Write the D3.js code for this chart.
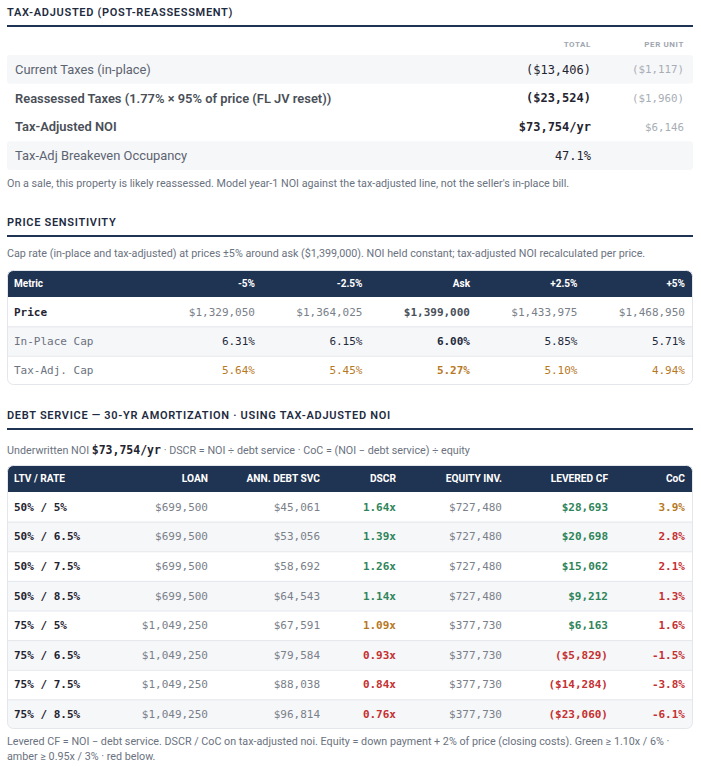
<!DOCTYPE html>
<html>
<head>
<meta charset="utf-8">
<script src="https://cdn.jsdelivr.net/npm/d3@7"></script>
<style>
  html, body { margin: 0; padding: 0; background: #fff; }
  svg { display: block; }
  .sans { font-family: Roboto, "Noto Sans", sans-serif; }
  .mono { font-family: "DejaVu Sans Mono", "Liberation Mono", monospace; }
</style>
</head>
<body>
<svg id="chart" width="701" height="767"></svg>
<script>
// ---- data ----
const taxLabels = [
  'Current Taxes (in-place)',
  'Reassessed Taxes (1.77% × 95% of price (FL JV reset))',
  'Tax-Adjusted NOI',
  'Tax-Adj Breakeven Occupancy'
];
const taxTotals = ['($13,406)', '($23,524)', '$73,754/yr', '47.1%'];
const taxPerUnit = ['($1,117)', '($1,960)', '$6,146', ''];

const priceCols = ['-5%', '-2.5%', 'Ask', '+2.5%', '+5%'];
const prices = [1329050, 1364025, 1399000, 1433975, 1468950];
const inPlaceCap = [6.31, 6.15, 6.00, 5.85, 5.71];
const taxAdjCap = [5.64, 5.45, 5.27, 5.10, 4.94];

const debtHeaders = ['LTV / RATE', 'LOAN', 'ANN. DEBT SVC', 'DSCR', 'EQUITY INV.', 'LEVERED CF', 'CoC'];
const ltvRate = ['50% / 5%', '50% / 6.5%', '50% / 7.5%', '50% / 8.5%', '75% / 5%', '75% / 6.5%', '75% / 7.5%', '75% / 8.5%'];
const loans = [699500, 699500, 699500, 699500, 1049250, 1049250, 1049250, 1049250];
const debtSvc = [45061, 53056, 58692, 64543, 67591, 79584, 88038, 96814];
const dscr = [1.64, 1.39, 1.26, 1.14, 1.09, 0.93, 0.84, 0.76];
const equity = [727480, 727480, 727480, 727480, 377730, 377730, 377730, 377730];
const leveredCF = [28693, 20698, 15062, 9212, 6163, -5829, -14284, -23060];
const coc = [3.9, 2.8, 2.1, 1.3, 1.6, -1.5, -3.8, -6.1];

// ---- styling ----
const NAVY = '#1f3352';
const GREEN = '#2f855a';
const AMBER = '#b7791f';
const RED = '#c53030';
const ZEBRA = '#f6f7f9';
const LINE = '#e3e6eb';
const L = 7, R = 693;

const svg = d3.select('#chart');
const money = d3.format('$,');
const fmtMoney = v => v < 0 ? `(${money(-v)})` : money(v);

function sectionTitle (text, y) {
  svg.append('text').attr('class', 'sans')
    .attr('x', L).attr('y', y)
    .attr('font-size', 11).attr('font-weight', 600)
    .attr('letter-spacing', 0.7).attr('fill', '#1e2b40')
    .text(text);
  svg.append('rect').attr('x', L).attr('y', y + 9).attr('width', R - L).attr('height', 2).attr('fill', NAVY);
}

function note (text, y) {
  return svg.append('text').attr('class', 'sans')
    .attr('x', L).attr('y', y)
    .attr('font-size', 10.75).attr('fill', '#6b7280')
    .text(text);
}

// ---- section 1: tax adjusted ----
sectionTitle('TAX-ADJUSTED (POST-REASSESSMENT)', 16);

const y1 = d3.scaleBand().domain(d3.range(taxLabels.length)).range([55, 170]);
const x1 = { total: 591, unit: 684 };

svg.selectAll('.th1').data([['TOTAL', x1.total], ['PER UNIT', x1.unit]]).join('text')
  .attr('class', 'sans th1')
  .attr('x', d => d[1]).attr('y', 47)
  .attr('text-anchor', 'end').attr('font-size', 8).attr('font-weight', 700)
  .attr('letter-spacing', 0.6).attr('fill', '#a0a6b0')
  .text(d => d[0]);

const rows1 = svg.selectAll('.row1').data(taxLabels).join('g')
  .attr('class', 'row1')
  .attr('transform', (d, i) => `translate(0,${y1(i)})`);

rows1.filter((d, i) => i === 0 || i === 3).append('rect')
  .attr('x', L).attr('width', R - L).attr('height', y1.bandwidth())
  .attr('rx', 3).attr('fill', ZEBRA);

rows1.append('text').attr('class', 'sans')
  .attr('x', 15).attr('y', y1.bandwidth() / 2).attr('dy', '0.35em')
  .attr('font-size', 12.9)
  .attr('font-weight', (d, i) => (i === 1 || i === 2) ? 600 : 400)
  .attr('fill', (d, i) => (i === 1 || i === 2) ? '#4a4f57' : '#5c6370')
  .text(d => d);

rows1.append('text').attr('class', 'mono')
  .attr('x', x1.total).attr('y', y1.bandwidth() / 2).attr('dy', '0.35em')
  .attr('text-anchor', 'end').attr('font-size', 12)
  .attr('font-weight', (d, i) => (i === 1 || i === 2) ? 700 : 400)
  .attr('fill', '#1f2430')
  .text((d, i) => taxTotals[i]);

rows1.append('text').attr('class', 'mono')
  .attr('x', x1.unit).attr('y', y1.bandwidth() / 2).attr('dy', '0.35em')
  .attr('text-anchor', 'end').attr('font-size', 10.8)
  .attr('fill', '#a8adb5')
  .text((d, i) => taxPerUnit[i]);

note("On a sale, this property is likely reassessed. Model year-1 NOI against the tax-adjusted line, not the seller's in-place bill.", 187);

// ---- table helper ----
function tableFrame (id, top, bottom, headH) {
  const defs = svg.append('defs');
  defs.append('clipPath').attr('id', id)
    .append('rect').attr('x', L + 0.5).attr('y', top + 0.5)
    .attr('width', R - L - 1).attr('height', bottom - top - 1).attr('rx', 6);
  const g = svg.append('g').attr('clip-path', `url(#${id})`);
  g.append('rect').attr('x', L).attr('y', top).attr('width', R - L).attr('height', headH).attr('fill', NAVY);
  return g;
}
function tableBorder (top, bottom) {
  svg.append('rect').attr('x', L + 0.5).attr('y', top + 0.5)
    .attr('width', R - L - 1).attr('height', bottom - top - 1).attr('rx', 6)
    .attr('fill', 'none').attr('stroke', LINE);
}

// ---- section 2: price sensitivity ----
sectionTitle('PRICE SENSITIVITY', 226);
note('Cap rate (in-place and tax-adjusted) at prices ±5% around ask ($1,399,000). NOI held constant; tax-adjusted NOI recalculated per price.', 257);

const t2Top = 270, t2Head = 27, t2Bottom = 385;
const g2 = tableFrame('clip2', t2Top, t2Bottom, t2Head);
const x2 = d3.scalePoint().domain(priceCols).range([255, 685]);
const rowNames2 = ['Price', 'In-Place Cap', 'Tax-Adj. Cap'];
const y2 = d3.scaleBand().domain(rowNames2).range([t2Top + t2Head, t2Bottom]);

g2.append('text').attr('class', 'sans')
  .attr('x', 14).attr('y', t2Top + t2Head / 2).attr('dy', '0.35em')
  .attr('font-size', 10).attr('font-weight', 700).attr('fill', '#fff').text('Metric');
g2.selectAll('.h2').data(priceCols).join('text')
  .attr('class', 'sans h2')
  .attr('x', d => x2(d)).attr('y', t2Top + t2Head / 2).attr('dy', '0.35em')
  .attr('text-anchor', 'end').attr('font-size', 10).attr('font-weight', 700).attr('fill', '#fff')
  .text(d => d);

const rowVals2 = [
  prices.map(v => ({ t: money(v), c: '#7a808a' })),
  inPlaceCap.map(v => ({ t: v.toFixed(2) + '%', c: '#1f2a3c' })),
  taxAdjCap.map(v => ({ t: v.toFixed(2) + '%', c: AMBER }))
];
const rows2 = g2.selectAll('.row2').data(rowNames2).join('g')
  .attr('class', 'row2')
  .attr('transform', d => `translate(0,${y2(d)})`);
rows2.filter((d, i) => i === 1).append('rect')
  .attr('x', L).attr('width', R - L).attr('height', y2.bandwidth()).attr('fill', ZEBRA);
rows2.filter((d, i) => i > 0).append('rect')
  .attr('x', L).attr('width', R - L).attr('height', 1).attr('fill', LINE);
rows2.append('text').attr('class', 'mono')
  .attr('x', 14).attr('y', y2.bandwidth() / 2).attr('dy', '0.35em')
  .attr('font-size', 11).attr('font-weight', (d, i) => i === 0 ? 700 : 400)
  .attr('fill', (d, i) => i === 0 ? '#1f2430' : '#6b7280')
  .text(d => d);
rows2.each(function (d, i) {
  d3.select(this).selectAll('.v').data(rowVals2[i]).join('text')
    .attr('class', 'mono v')
    .attr('x', (v, j) => x2(priceCols[j])).attr('y', y2.bandwidth() / 2).attr('dy', '0.35em')
    .attr('text-anchor', 'end').attr('font-size', 11)
    .attr('font-weight', (v, j) => priceCols[j] === 'Ask' ? 700 : 400)
    .attr('fill', (v, j) => (i === 0 && priceCols[j] === 'Ask') ? '#4a505a' : v.c)
    .text(v => v.t);
});
tableBorder(t2Top, t2Bottom);

// ---- section 3: debt service ----
sectionTitle('DEBT SERVICE — 30-YR AMORTIZATION · USING TAX-ADJUSTED NOI', 419);
const sub3 = note('', 454);
sub3.append('tspan').text('Underwritten NOI ');
sub3.append('tspan').attr('class', 'mono').attr('font-weight', 700).attr('fill', '#1f2430').attr('font-size', 11.5).text('$73,754/yr');
sub3.append('tspan').text(' · DSCR = NOI ÷ debt service · CoC = (NOI − debt service) ÷ equity');

const t3Top = 465, t3Head = 27, t3Bottom = 729;
const g3 = tableFrame('clip3', t3Top, t3Bottom, t3Head);
const colRight = [14, 208, 320, 396, 502, 608, 685];
const x3 = d3.scaleOrdinal().domain(debtHeaders).range(colRight);
const y3 = d3.scaleBand().domain(d3.range(ltvRate.length)).range([t3Top + t3Head, t3Bottom]);

g3.selectAll('.h3').data(debtHeaders).join('text')
  .attr('class', 'sans h3')
  .attr('x', d => x3(d)).attr('y', t3Top + t3Head / 2).attr('dy', '0.35em')
  .attr('text-anchor', (d, i) => i === 0 ? 'start' : 'end')
  .attr('font-size', 10.2).attr('font-weight', 700).attr('fill', '#fff')
  .text(d => d);

const dscrColor = v => v >= 1.10 ? GREEN : v >= 0.95 ? AMBER : RED;
const cocColor = v => v >= 6 ? GREEN : v >= 3 ? AMBER : RED;
const cfColor = v => v >= 0 ? GREEN : RED;
const GREY = '#7a808a';

const rows3 = g3.selectAll('.row3').data(ltvRate).join('g')
  .attr('class', 'row3')
  .attr('transform', (d, i) => `translate(0,${y3(i)})`);
rows3.filter((d, i) => i % 2 === 1).append('rect')
  .attr('x', L).attr('width', R - L).attr('height', y3.bandwidth()).attr('fill', ZEBRA);
rows3.filter((d, i) => i > 0).append('rect')
  .attr('x', L).attr('width', R - L).attr('height', 1).attr('fill', LINE);

rows3.each(function (d, i) {
  const cells = [
    { t: d, c: '#1f2430', w: 700 },
    { t: money(loans[i]), c: GREY, w: 400 },
    { t: money(debtSvc[i]), c: GREY, w: 400 },
    { t: dscr[i].toFixed(2) + 'x', c: dscrColor(dscr[i]), w: 700 },
    { t: money(equity[i]), c: GREY, w: 400 },
    { t: fmtMoney(leveredCF[i]), c: cfColor(leveredCF[i]), w: 700 },
    { t: coc[i].toFixed(1) + '%', c: cocColor(coc[i]), w: 700 }
  ];
  d3.select(this).selectAll('.v').data(cells).join('text')
    .attr('class', 'mono v')
    .attr('x', (v, j) => x3(debtHeaders[j])).attr('y', y3.bandwidth() / 2).attr('dy', '0.35em')
    .attr('text-anchor', (v, j) => j === 0 ? 'start' : 'end')
    .attr('font-size', 11).attr('font-weight', v => v.w).attr('fill', v => v.c)
    .text(v => v.t);
});
tableBorder(t3Top, t3Bottom);

note('Levered CF = NOI − debt service. DSCR / CoC on tax-adjusted noi. Equity = down payment + 2% of price (closing costs). Green ≥ 1.10x / 6% ·', 745);
note('amber ≥ 0.95x / 3% · red below.', 760);
</script>
</body>
</html>
